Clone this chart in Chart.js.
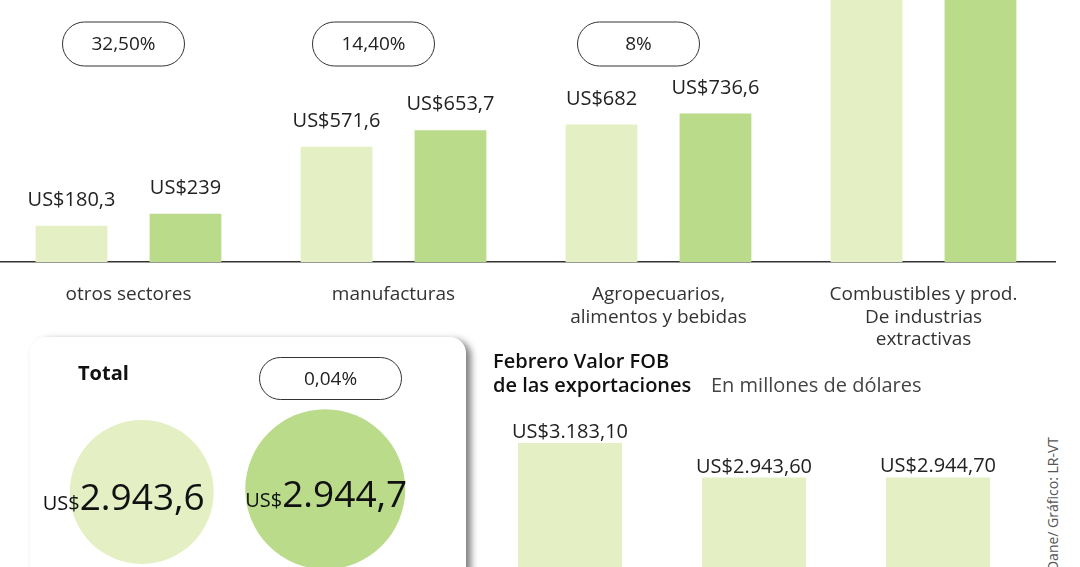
<!DOCTYPE html>
<html>
<head>
<meta charset="utf-8">
<script src="https://cdn.jsdelivr.net/npm/chart.js@4.4.0/dist/chart.umd.min.js"></script>
<style>
  body { margin: 0; width: 1080px; height: 567px; overflow: hidden; background: #fff; font-family: "Open Sans", sans-serif; color: #222; }
  .box { position: absolute; }
  #panel { left: 30px; top: 337px; width: 436px; height: 270px; background: #fff; border-radius: 16px; box-shadow: 5px 3px 7px rgba(0,0,0,0.5); }
  .pill { position: absolute; border: 1px solid #333; border-radius: 22px; background: #fff; text-align: center; font-size: 19px; }
  .title { position: absolute; font-size: 20px; line-height: 24px; color: #111; }
  #source { position: absolute; left: 1043px; top: 437px; writing-mode: vertical-rl; transform: rotate(180deg); font-size: 14px; color: #555; white-space: nowrap; }
</style>
</head>
<body>

<div class="box" style="left:-4px; top:0; width:1060px; height:355px;"><canvas id="sectorChart"></canvas></div>

<div class="box" id="panel"></div>
<div class="title" style="left:78px; top:361px; font-weight:700;">Total</div>
<div class="pill" id="totalPill" style="left:259px; top:357px; width:141px; height:41px; line-height:41px;"></div>
<div class="box" style="left:30px; top:377px; width:407px; height:223px;"><canvas id="totalChart"></canvas></div>

<div class="title" style="left:493px; top:349px; font-weight:600;">Febrero Valor FOB<br>de las exportaciones</div>
<div class="title" style="left:711px; top:373px; color:#444;">En millones de dólares</div>
<div class="box" style="left:478px; top:400px; width:552px; height:214px;"><canvas id="fobChart"></canvas></div>

<div id="source">Fuente: Dane/ Gráfico: LR-VT</div>

<script>
// exportaciones por sector, febrero (millones de US$)
var categories = [['otros sectores'], ['manufacturas'], ['Agropecuarios,', 'alimentos y bebidas'], ['Combustibles y prod.', 'De industrias', 'extractivas']];
var feb2019 = [180.3, 571.6, 682, 1509.7];
var feb2020 = [239, 653.7, 736.6, 1315.4];
var changeLabels = ['32,50%', '14,40%', '8%'];

// total
var totalLabels = ['Febrero 2019', 'Febrero 2020'];
var totals = [2943.6, 2944.7];
var totalChange = '0,04%';

// valor FOB febrero
var fobLabels = ['2018', '2019', '2020'];
var fobValues = [3183.1, 2943.6, 2944.7];

var lightGreen = '#e4efc4';
var green = '#badb8a';
var fontName = '"Open Sans", sans-serif';
var pillShift = [-5, -20, -20];
var circleTextShift = [-18, 1];

function fmt(v, dec) {
    var s = dec == null ? String(v) : v.toFixed(dec);
    var parts = s.split('.');
    var ent = parts[0].replace(/\B(?=(\d{3})+(?!\d))/g, '.');
    return parts.length > 1 ? ent + ',' + parts[1] : ent;
}

window.onload = function () {

    document.getElementById('totalPill').textContent = totalChange;

    // sector chart: value labels + percentage pills
    var sectorLabels = {
        id: 'sectorLabels',
        afterDatasetsDraw: function (chart) {
            var ctx = chart.ctx;
            var max = chart.scales.y.max;
            ctx.save();
            ctx.font = '20px ' + fontName;
            ctx.fillStyle = '#222';
            ctx.textAlign = 'center';
            ctx.textBaseline = 'alphabetic';
            chart.data.datasets.forEach(function (ds, d) {
                chart.getDatasetMeta(d).data.forEach(function (bar, i) {
                    if (ds.data[i] > max) return;
                    ctx.fillText('US$' + fmt(ds.data[i]), bar.x, bar.y - 20);
                });
            });
            ctx.font = '19px ' + fontName;
            changeLabels.forEach(function (txt, i) {
                var cx = chart.scales.x.getPixelForValue(i) + pillShift[i];
                var w = 122, h = 44, y = 22;
                ctx.beginPath();
                ctx.roundRect(cx - w / 2, y, w, h, h / 2);
                ctx.fillStyle = '#fff';
                ctx.fill();
                ctx.lineWidth = 1;
                ctx.strokeStyle = '#333';
                ctx.stroke();
                ctx.fillStyle = '#222';
                ctx.textBaseline = 'middle';
                ctx.fillText(txt, cx, y + h / 2 + 1);
            });
            ctx.restore();
        }
    };

    new Chart(document.getElementById('sectorChart').getContext('2d'), {
        type: 'bar',
        data: {
            labels: categories,
            datasets: [{
                label: 'Febrero 2019',
                data: feb2019,
                backgroundColor: lightGreen,
                categoryPercentage: 0.86,
                barPercentage: 0.63
            },
            {
                label: 'Febrero 2020',
                data: feb2020,
                backgroundColor: green,
                categoryPercentage: 0.86,
                barPercentage: 0.63
            }]
        },
        options: {
            responsive: true,
            maintainAspectRatio: false,
            animation: false,
            layout: { padding: 0 },
            plugins: { legend: { display: false }, tooltip: { enabled: false } },
            scales: {
                x: {
                    grid: { display: false, drawTicks: false },
                    border: { display: true, color: '#333', width: 1.5 },
                    ticks: { color: '#333', padding: 21, maxRotation: 0, autoSkip: false, font: { family: fontName, size: 19, lineHeight: 1.2 } },
                    afterFit: function (scale) { scale.height = 93; }
                },
                y: { display: false, min: 0, max: 1300 }
            }
        },
        plugins: [sectorLabels]
    });

    // total circles
    var circleText = {
        id: 'circleText',
        afterDatasetsDraw: function (chart) {
            var ctx = chart.ctx;
            ctx.save();
            ctx.fillStyle = '#111';
            ctx.textBaseline = 'alphabetic';
            ctx.textAlign = 'left';
            chart.getDatasetMeta(0).data.forEach(function (pt, i) {
                var small = 'US$', big = fmt(totals[i], 1);
                ctx.font = '20px ' + fontName;
                var ws = ctx.measureText(small).width;
                ctx.font = '37px ' + fontName;
                var wb = ctx.measureText(big).width;
                var x0 = pt.x - (ws + wb) / 2 + circleTextShift[i];
                ctx.font = '20px ' + fontName;
                ctx.fillText(small, x0, pt.y + 18);
                ctx.font = '37px ' + fontName;
                ctx.fillText(big, x0 + ws, pt.y + 18);
            });
            ctx.restore();
        }
    };

    new Chart(document.getElementById('totalChart').getContext('2d'), {
        type: 'line',
        data: {
            labels: totalLabels,
            datasets: [{
                data: totals,
                showLine: false,
                pointRadius: [72, 80],
                pointBackgroundColor: [lightGreen, green],
                pointBorderWidth: 0,
                clip: false
            }]
        },
        options: {
            responsive: true,
            maintainAspectRatio: false,
            animation: false,
            layout: { padding: { left: 20, right: 20, top: 0, bottom: 0 }, autoPadding: false },
            plugins: { legend: { display: false }, tooltip: { enabled: false } },
            scales: {
                x: { display: false, offset: true },
                y: { display: false, min: 2900, max: 2990 }
            }
        },
        plugins: [circleText]
    });

    // FOB chart
    var fobText = {
        id: 'fobText',
        afterDatasetsDraw: function (chart) {
            var ctx = chart.ctx;
            ctx.save();
            ctx.font = '20px ' + fontName;
            ctx.fillStyle = '#222';
            ctx.textAlign = 'center';
            ctx.textBaseline = 'alphabetic';
            chart.getDatasetMeta(0).data.forEach(function (bar, i) {
                ctx.fillText('US$' + fmt(fobValues[i], 2), bar.x, bar.y - 5);
            });
            ctx.restore();
        }
    };

    new Chart(document.getElementById('fobChart').getContext('2d'), {
        type: 'bar',
        data: {
            labels: fobLabels,
            datasets: [{
                data: fobValues,
                backgroundColor: lightGreen,
                categoryPercentage: 1,
                barPercentage: 0.565
            }]
        },
        options: {
            responsive: true,
            maintainAspectRatio: false,
            animation: false,
            layout: { padding: 0 },
            plugins: { legend: { display: false }, tooltip: { enabled: false } },
            scales: {
                x: { display: false },
                y: { display: false, min: 2000, max: 3480 }
            }
        },
        plugins: [fobText]
    });
}
</script>
</body>
</html>
